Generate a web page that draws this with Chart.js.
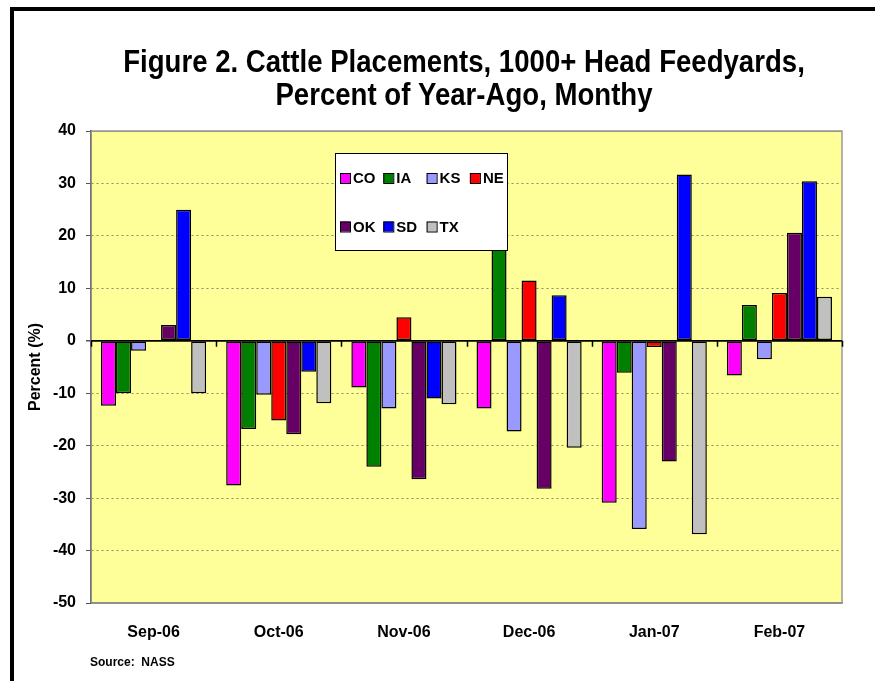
<!DOCTYPE html>
<html><head><meta charset="utf-8">
<script src="https://cdn.jsdelivr.net/npm/chart.js@4"></script>
<style>html,body{margin:0;padding:0;background:#fff}#wrap{width:875px;height:681px;position:relative}</style>
</head><body><div id="wrap"><canvas id="c" width="875" height="681"></canvas></div>
<script>
const categories = ['Sep-06','Oct-06','Nov-06','Dec-06','Jan-07','Feb-07'];
const seriesNames = ['CO','IA','KS','NE','OK','SD','TX'];
const CO = [-12.4,-27.6,-8.9,-12.9,-30.9,-6.6];
const IA = [-10.0,-16.8,-24.0,25.0,-6.1,6.8];
const KS = [-1.9,-10.3,-12.9,-17.3,-35.9,-3.5];
const NE = [null,-15.2,4.5,11.5,-1.2,9.1];
const OK = [3.0,-17.8,-26.4,-28.2,-23.0,20.6];
const SD = [25.0,-5.9,-11.0,8.7,31.7,30.4];
const TX = [-10.0,-11.9,-12.1,-20.4,-36.9,8.4];
const yTicks = [40,30,20,10,0,-10,-20,-30,-40,-50];
const titleLines = ['Figure 2. Cattle Placements, 1000+ Head Feedyards,', 'Percent of Year-Ago, Monthy'];
const seriesColors = ['#FF00FF','#008000','#9999FF','#FF0000','#660066','#0000FF','#C0C0C0'];
const seriesValues = [CO,IA,KS,NE,OK,SD,TX];

const SANS = "'Liberation Sans', Arial, sans-serif";

const bgPlugin = {
  id: 'bg',
  beforeDraw(chart) {
    const {ctx, chartArea: a} = chart;
    ctx.save();
    ctx.fillStyle = '#FFFF99';
    ctx.fillRect(a.left, a.top, a.right - a.left, a.bottom - a.top);
    ctx.restore();
  },
  beforeDatasetsDraw(chart) {
    const {ctx, chartArea: a} = chart;
    ctx.save();
    ctx.strokeStyle = '#9a9a9a';
    ctx.lineWidth = 1.5;
    ctx.strokeRect(a.left, a.top, a.right - a.left, a.bottom - a.top);
    ctx.restore();
  },
  afterDatasetsDraw(chart) {
    const {ctx} = chart;
    const xs = chart.scales.x, ys = chart.scales.y;
    const y0 = ys.getPixelForValue(0);
    ctx.save();
    ctx.strokeStyle = '#000';
    ctx.lineWidth = 1.5;
    ctx.beginPath();
    ctx.moveTo(xs.left, y0); ctx.lineTo(xs.right, y0);
    const n = categories.length;
    for (let i = 0; i <= n; i++) {
      const x = Math.round(xs.left + i * (xs.right - xs.left) / n) + 0.5;
      ctx.moveTo(x, y0); ctx.lineTo(x, y0 + 6);
    }
    ctx.stroke();
    // legend
    const bx = 335, by = 153, bw = 172, bh = 97;
    ctx.fillStyle = '#fff';
    ctx.fillRect(bx, by, bw, bh);
    ctx.strokeStyle = '#000';
    ctx.lineWidth = 1;
    ctx.strokeRect(bx + 0.5, by + 0.5, bw, bh);
    ctx.font = "bold 15px " + SANS;
    ctx.textBaseline = 'middle';
    ctx.textAlign = 'left';
    chart.data.datasets.forEach((ds, i) => {
      const col = i % 4, row = Math.floor(i / 4);
      const x = bx + 5 + col * 43.3;
      const y = by + 25 + row * 48.5;
      ctx.fillStyle = ds.backgroundColor;
      ctx.fillRect(x, y - 5, 10, 10);
      ctx.strokeStyle = '#000';
      ctx.strokeRect(x + 0.5, y - 4.5, 10, 10);
      ctx.fillStyle = '#000';
      ctx.fillText(ds.label, x + 13, y + 1);
    });
    ctx.restore();
  },
  afterDraw(chart) {
    const {ctx} = chart;
    ctx.save();
    ctx.fillStyle = '#000';
    ctx.fillRect(10, 7, 4, 674);
    ctx.fillRect(10, 7, 865, 4);
    // title, horizontally condensed like Arial Narrow
    ctx.font = "bold 31px " + SANS;
    ctx.textBaseline = 'middle';
    ctx.textAlign = 'center';
    const cx = 464;
    [63, 96].forEach((y, i) => {
      ctx.save();
      ctx.translate(cx, y);
      ctx.scale(0.89, 1);
      ctx.fillText(titleLines[i], 0, 0);
      ctx.restore();
    });
    ctx.textAlign = 'left';
    ctx.font = "bold 12px " + SANS;
    ctx.fillText('Source:  NASS', 90, 663);
    ctx.restore();
  }
};

new Chart(document.getElementById('c'), {
  type: 'bar',
  data: {
    labels: categories,
    datasets: seriesNames.map((name, i) => ({
      label: name,
      data: seriesValues[i],
      backgroundColor: seriesColors[i],
      borderColor: '#000',
      borderWidth: 1.5,
      borderSkipped: false,
      categoryPercentage: 0.84,
      barPercentage: 1.0
    }))
  },
  options: {
    responsive: false,
    animation: false,
    devicePixelRatio: 1,
    layout: { padding: { left: 0, right: 33, top: 131, bottom: 39 } },
    plugins: {
      legend: { display: false },
      tooltip: { enabled: false },
      title: { display: false }
    },
    scales: {
      x: {
        grid: { display: false, drawTicks: false },
        border: { display: true, color: '#666', width: 1.5 },
        ticks: { color: '#000', font: { family: SANS, size: 16, weight: 'bold' }, padding: 20 },
        afterFit(s) { s.height = 39; }
      },
      y: {
        min: -50, max: 40,
        afterBuildTicks(s) { s.ticks = yTicks.map(v => ({ value: v })); },
        ticks: { color: '#000', font: { family: SANS, size: 16, weight: 'bold' }, padding: 10 },
        grid: {
          color: ctx => (ctx.tick && ctx.tick.value === 0) ? '#000' : '#8a8a6a',
          lineWidth: ctx => (ctx.tick && ctx.tick.value === 0) ? 1.5 : 1,
          tickLength: 5,
          tickColor: '#555',
          tickBorderDash: [],
          drawTicks: true
        },
        border: {
          display: true, color: '#000', width: 1.5,
          dash: ctx => (ctx.tick && ctx.tick.value !== 0 && ctx.tick.value !== 40 && ctx.tick.value !== -50) ? [2, 3] : []
        },
        title: {
          display: true, text: 'Percent (%)', color: '#000',
          font: { family: SANS, size: 16, weight: 'bold' },
          padding: { top: 26, bottom: 0 }
        },
        afterFit(s) { s.width = 91; }
      }
    }
  },
  plugins: [bgPlugin]
});
</script>
</body></html>
